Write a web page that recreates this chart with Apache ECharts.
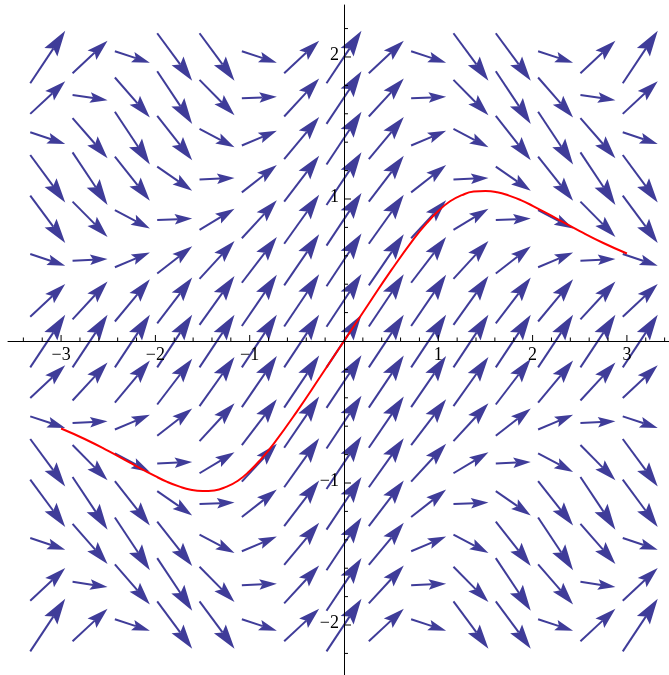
<!DOCTYPE html>
<html><head><meta charset="utf-8">
<script src="https://cdn.jsdelivr.net/npm/echarts@6/dist/echarts.min.js"></script>
<style>html,body{margin:0;padding:0;background:#fff}#c{width:669px;height:675px}</style>
</head><body><div id="c"></div>
<script>
// Grid of sample points of the direction field
const xs = [-3.1416,-2.6928,-2.2440,-1.7952,-1.3464,-0.8976,-0.4488,0,0.4488,0.8976,1.3464,1.7952,2.2440,2.6928,3.1416];
const ys = [2,1.7143,1.4286,1.1429,0.8571,0.5714,0.2857,0,-0.2857,-0.5714,-0.8571,-1.1429,-1.4286,-1.7143,-2];
// slope dy/dx of each arrow, rows follow ys (top to bottom), columns follow xs
const slopes = [
 [1,0.62,-0.22,-0.90,-0.90,-0.22,0.62,1,0.62,-0.22,-0.90,-0.90,-0.22,0.62,1],
 [0.62,-0.10,-0.76,-1.00,-0.67,0.03,0.72,1,0.72,0.03,-0.67,-1.00,-0.76,-0.10,0.62],
 [-0.22,-0.76,-1.00,-0.84,-0.35,0.28,0.80,1,0.80,0.28,-0.35,-0.84,-1.00,-0.76,-0.22],
 [-0.90,-1.00,-0.84,-0.46,0.03,0.52,0.87,1,0.87,0.52,0.03,-0.46,-0.84,-1.00,-0.90],
 [-0.90,-0.67,-0.35,0.03,0.40,0.72,0.93,1,0.93,0.72,0.40,0.03,-0.35,-0.67,-0.90],
 [-0.22,0.03,0.28,0.52,0.72,0.87,0.97,1,0.97,0.87,0.72,0.52,0.28,0.03,-0.22],
 [0.62,0.72,0.80,0.87,0.93,0.97,0.99,1,0.99,0.97,0.93,0.87,0.80,0.72,0.62],
 [1,1,1,1,1,1,1,1,1,1,1,1,1,1,1],
 [0.62,0.72,0.80,0.87,0.93,0.97,0.99,1,0.99,0.97,0.93,0.87,0.80,0.72,0.62],
 [-0.22,0.03,0.28,0.52,0.72,0.87,0.97,1,0.97,0.87,0.72,0.52,0.28,0.03,-0.22],
 [-0.90,-0.67,-0.35,0.03,0.40,0.72,0.93,1,0.93,0.72,0.40,0.03,-0.35,-0.67,-0.90],
 [-0.90,-1.00,-0.84,-0.46,0.03,0.52,0.87,1,0.87,0.52,0.03,-0.46,-0.84,-1.00,-0.90],
 [-0.22,-0.76,-1.00,-0.84,-0.35,0.28,0.80,1,0.80,0.28,-0.35,-0.84,-1.00,-0.76,-0.22],
 [0.62,-0.10,-0.76,-1.00,-0.67,0.03,0.72,1,0.72,0.03,-0.67,-1.00,-0.76,-0.10,0.62],
 [1,0.62,-0.22,-0.90,-0.90,-0.22,0.62,1,0.62,-0.22,-0.90,-0.90,-0.22,0.62,1]
];
// red solution curve
const curveX = [-3,-2.75,-2.5,-2.25,-2,-1.875,-1.75,-1.625,-1.5,-1.375,-1.25,-1.125,-1,-0.875,-0.75,-0.5,-0.25,0,0.25,0.5,0.75,0.875,1,1.125,1.25,1.375,1.5,1.625,1.75,1.875,2,2.25,2.5,2.75,3];
const curveY = [-0.616,-0.690,-0.774,-0.864,-0.952,-0.992,-1.024,-1.048,-1.057,-1.052,-1.027,-0.984,-0.915,-0.828,-0.728,-0.497,-0.250,0,0.250,0.497,0.728,0.828,0.915,0.984,1.027,1.052,1.057,1.048,1.024,0.992,0.952,0.864,0.774,0.690,0.616];
// axis ticks
const xMajor = [-3,-2,-1,1,2,3];
const yMajor = [-2,-1,1,2];
const xMinor = [-3.4,-3.2,-2.8,-2.6,-2.4,-2.2,-1.8,-1.6,-1.4,-1.2,-0.8,-0.6,-0.4,-0.2,0.2,0.4,0.6,0.8,1.2,1.4,1.6,1.8,2.2,2.4,2.6,2.8,3.2,3.4];
const yMinor = [-2.2,-1.8,-1.6,-1.4,-1.2,-0.8,-0.6,-0.4,-0.2,0.2,0.4,0.6,0.8,1.2,1.4,1.6,1.8,2.2];

const ARROW = '#3f3c99';
const ARROW_DX = 0.371; // horizontal extent of an arrow, data units

const arrowData = [];
ys.forEach((y, r) => xs.forEach((x, c) => arrowData.push([x, y, slopes[r][c]])));

const fmt = v => (v < 0 ? '\u2212' + Math.abs(v) : '' + v);
const FONT = '"Liberation Serif", "DejaVu Serif", serif';

const chart = echarts.init(document.getElementById('c'), null, {renderer: 'canvas'});
chart.setOption({
  animation: false,
  backgroundColor: '#fff',
  grid: {left: 8, right: 0, top: 5, bottom: 0, containLabel: false},
  xAxis: {type: 'value', min: -3.563, max: 3.4465, z: 10,
    axisLine: {show: true, onZero: true, lineStyle: {color: '#000', width: 1}},
    axisTick: {show: false}, axisLabel: {show: false}, splitLine: {show: false}},
  yAxis: {type: 'value', min: -2.352, max: 2.366, z: 10,
    axisLine: {show: true, onZero: true, lineStyle: {color: '#000', width: 1}},
    axisTick: {show: false}, axisLabel: {show: false}, splitLine: {show: false}},
  series: [
    {
      type: 'custom', z: 2, clip: false,
      data: arrowData,
      renderItem: function (params, api) {
        const x = api.value(0), y = api.value(1), s = api.value(2);
        const h = ARROW_DX / 2;
        const p0 = api.coord([x - h, y - h * s]);
        const p1 = api.coord([x + h, y + h * s]);
        const dx = p1[0] - p0[0], dy = p1[1] - p0[1];
        const len = Math.hypot(dx, dy);
        const ux = dx / len, uy = dy / len, nx = -uy, ny = ux;
        const hl = 0.3 * len + 7, hw = hl * 0.3;
        const bx = p1[0] - ux * hl, by = p1[1] - uy * hl;
        const nt = [p1[0] - ux * hl * 0.82, p1[1] - uy * hl * 0.82];
        return {type: 'group', children: [
          {type: 'line', shape: {x1: p0[0], y1: p0[1], x2: nt[0], y2: nt[1]}, style: {stroke: ARROW, lineWidth: 2}},
          {type: 'polygon', shape: {points: [p1, [bx + nx * hw, by + ny * hw], nt, [bx - nx * hw, by - ny * hw]]}, style: {fill: ARROW}}
        ]};
      }
    },
    {
      type: 'line', z: 5, data: curveX.map((x, i) => [x, curveY[i]]),
      showSymbol: false, smooth: true, sampling: null,
      lineStyle: {color: '#ff0000', width: 2}
    },
    {
      type: 'custom', z: 11, clip: false,
      data: xMajor.map(v => [v, 0, 1]).concat(xMinor.map(v => [v, 0, 0])),
      renderItem: function (params, api) {
        const p = api.coord([api.value(0), 0]);
        const L = api.value(2) ? 6 : 3.5;
        return {type: 'line', shape: {x1: p[0], y1: p[1], x2: p[0], y2: p[1] - L}, style: {stroke: '#000', lineWidth: 1}};
      }
    },
    {
      type: 'custom', z: 11, clip: false,
      data: yMajor.map(v => [0, v, 1]).concat(yMinor.map(v => [0, v, 0])),
      renderItem: function (params, api) {
        const p = api.coord([0, api.value(1)]);
        const L = api.value(2) ? 7 : 4;
        return {type: 'line', shape: {x1: p[0], y1: p[1], x2: p[0] + L, y2: p[1]}, style: {stroke: '#000', lineWidth: 1}};
      }
    },
    {
      type: 'custom', z: 12, clip: false,
      data: xMajor.map(v => [v, 0]),
      renderItem: function (params, api) {
        const v = api.value(0);
        const p = api.coord([v, 0]);
        return {type: 'text', x: p[0], y: p[1] + 14, style: {text: fmt(v), fontSize: 18, fontFamily: FONT, fill: '#000', align: 'center', verticalAlign: 'middle'}};
      }
    },
    {
      type: 'custom', z: 12, clip: false,
      data: yMajor.map(v => [0, v]),
      renderItem: function (params, api) {
        const v = api.value(1);
        const p = api.coord([0, v]);
        return {type: 'text', x: p[0] - 5, y: p[1] - 2, style: {text: fmt(v), fontSize: 18, fontFamily: FONT, fill: '#000', align: 'right', verticalAlign: 'middle'}};
      }
    }
  ]
});
</script>
</body></html>
